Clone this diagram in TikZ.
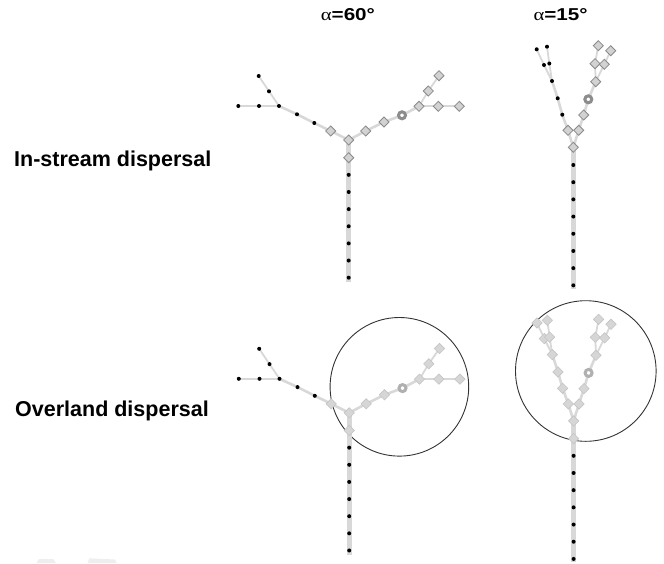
\documentclass[tikz,border=0pt]{standalone}
\usepackage{fontspec}
\usepackage{graphicx}
\setmainfont{Liberation Sans}
\newfontfamily\greekf{Liberation Serif}
\usetikzlibrary{shapes.geometric,backgrounds}

\definecolor{linegray}{HTML}{D8D8D8}
\definecolor{dtopfill}{HTML}{D2D2D2}
\definecolor{dtopedge}{HTML}{8A8A8A}
\definecolor{dbotfill}{HTML}{D6D6D6}
\definecolor{dbotedge}{HTML}{C4C4C4}
\definecolor{ringtopc}{HTML}{8C8C8C}
\definecolor{ringbotc}{HTML}{B0B0B0}
\definecolor{circc}{HTML}{333333}
\definecolor{faintc}{HTML}{EEEEEE}

\tikzset{
  dmdtop/.style={diamond, draw=dtopedge, fill=dtopfill, line width=0.8pt,
    minimum width=10.4pt, minimum height=10.4pt, inner sep=0pt},
  dmdbot/.style={diamond, draw=dbotedge, fill=dbotfill, line width=0.6pt,
    minimum width=10.6pt, minimum height=10.6pt, inner sep=0pt},
  blackdot/.style={circle, fill=black, minimum size=4pt, inner sep=0pt},
  ringtop/.style={circle, draw=ringtopc, fill=white, line width=3pt,
    minimum size=7pt, inner sep=0pt},
  ringbot/.style={circle, draw=ringbotc, fill=white, line width=3pt,
    minimum size=7pt, inner sep=0pt},
  stemline/.style={draw=linegray, line width=5pt},
  branchline/.style={draw=linegray, line width=2.6pt, line join=round},
  subline/.style={draw=linegray, line width=1.8pt, line join=round},
  rangecircle/.style={draw=circc, line width=0.9pt},
  rowlabel/.style={anchor=base west, inner sep=0pt,
    font=\bfseries\fontsize{21.5}{24}\selectfont},
  collabel/.style={anchor=base west, inner sep=0pt,
    font=\fontsize{17.2}{20}\selectfont},
}

% 60 degree network: #1 prefix, #2 diamond style, #3 ring style
\newcommand\netSixty[3]{%
  \node[#2] (#1J) at (348.7,140) {};
  \node[#2] (#1S0) at (348.7,157.7) {};
  \foreach \k in {1,...,7} {\node[blackdot] (#1S\k) at (348.7,{157.7+17.14*\k}) {};}
  \coordinate (#1End) at (348.7,282);
  \node[#2] (#1L1) at (330.7,131) {};
  \node[blackdot] (#1L2) at (314.3,123) {};
  \node[blackdot] (#1L3) at (297,114.3) {};
  \node[blackdot] (#1LJ) at (279,106) {};
  \node[blackdot] (#1LU1) at (269,91.3) {};
  \node[blackdot] (#1LU2) at (258.7,76) {};
  \node[blackdot] (#1LL1) at (259,106) {};
  \node[blackdot] (#1LL2) at (238.3,106) {};
  \node[#2] (#1R1) at (365.7,131) {};
  \node[#2] (#1R2) at (384,122) {};
  \node[#3] (#1RG) at (402,115.3) {};
  \node[#2] (#1RJ) at (419,106.3) {};
  \node[#2] (#1RU1) at (428.3,91) {};
  \node[#2] (#1RU2) at (439,75.7) {};
  \node[#2] (#1RR1) at (438.3,106.3) {};
  \node[#2] (#1RR2) at (459.3,106.3) {};
  \begin{pgfonlayer}{background}
    \draw[stemline] (#1J.center) -- (#1S0.center) -- (#1S1.center) -- (#1S2.center)
      -- (#1S3.center) -- (#1S4.center) -- (#1S5.center) -- (#1S6.center)
      -- (#1S7.center) -- (#1End);
    \draw[branchline] (#1J.center) -- (#1L1.center) -- (#1L2.center) -- (#1L3.center) -- (#1LJ.center);
    \draw[subline] (#1LJ.center) -- (#1LU1.center) -- (#1LU2.center);
    \draw[subline] (#1LJ.center) -- (#1LL1.center) -- (#1LL2.center);
    \draw[branchline] (#1J.center) -- (#1R1.center) -- (#1R2.center) -- (#1RG.center) -- (#1RJ.center);
    \draw[subline] (#1RJ.center) -- (#1RU1.center) -- (#1RU2.center);
    \draw[subline] (#1RJ.center) -- (#1RR1.center) -- (#1RR2.center);
  \end{pgfonlayer}
}

% 15 degree network: #1 prefix, #2 diamond style, #3 ring style,
% #4 style of left branch nodes, #5 style of first stem node
\newcommand\netFifteen[5]{%
  \node[#2] (#1J) at (573.3,147.3) {};
  \node[#5] (#1S1) at (573.3,165) {};
  \foreach \k in {2,...,8} {\node[blackdot] (#1S\k) at (573.3,{165+17.19*(\k-1)}) {};}
  \coordinate (#1End) at (573.3,288.5);
  \node[#2] (#1L1) at (568,130.3) {};
  \node[#4] (#1L2) at (562.3,114.7) {};
  \node[#4] (#1L3) at (557.7,98.3) {};
  \node[#4] (#1LJ) at (552,81) {};
  \node[#4] (#1LA1) at (544,65) {};
  \node[#4] (#1LA2) at (536.7,49.3) {};
  \node[#4] (#1LB1) at (549.3,63.5) {};
  \node[#4] (#1LB2) at (547,46.7) {};
  \node[#2] (#1R1) at (578.7,130.3) {};
  \node[#2] (#1R2) at (583.7,115) {};
  \node[#3] (#1RG) at (588.3,99.3) {};
  \node[#2] (#1RJ) at (595.7,81.7) {};
  \node[#2] (#1RA1) at (595,63.7) {};
  \node[#2] (#1RA2) at (598.3,45.7) {};
  \node[#2] (#1RB1) at (604.3,64.3) {};
  \node[#2] (#1RB2) at (610.7,50.7) {};
  \begin{pgfonlayer}{background}
    \draw[stemline] (#1J.center) -- (#1S1.center) -- (#1S2.center) -- (#1S3.center)
      -- (#1S4.center) -- (#1S5.center) -- (#1S6.center) -- (#1S7.center)
      -- (#1S8.center) -- (#1End);
    \draw[branchline] (#1J.center) -- (#1L1.center) -- (#1L2.center) -- (#1L3.center) -- (#1LJ.center);
    \draw[subline] (#1LJ.center) -- (#1LA1.center) -- (#1LA2.center);
    \draw[subline] (#1LJ.center) -- (#1LB1.center) -- (#1LB2.center);
    \draw[branchline] (#1J.center) -- (#1R1.center) -- (#1R2.center) -- (#1RG.center) -- (#1RJ.center);
    \draw[subline] (#1RJ.center) -- (#1RA1.center) -- (#1RA2.center);
    \draw[subline] (#1RJ.center) -- (#1RB1.center) -- (#1RB2.center);
  \end{pgfonlayer}
}

\begin{document}
\begin{tikzpicture}[x=1pt, y=-1pt]
  \useasboundingbox (0,0) rectangle (664,563);

  % column and row labels
  \node[collabel] (h60) at (320.7,20.7) {\scalebox{1.2}[1]{{\greekf α}{\bfseries =60°}}};
  \node[collabel] (h15) at (533.3,20.7) {\scalebox{1.2}[1]{{\greekf α}{\bfseries =15°}}};
  \node[rowlabel] (r1) at (14,166.7) {In-stream dispersal};
  \node[rowlabel] (r2) at (15,416.7) {Overland dispersal};

  % in-stream dispersal
  \netSixty{a}{dmdtop}{ringtop}
  \netFifteen{b}{dmdtop}{ringtop}{blackdot}{blackdot}

  % overland dispersal: range circles first (behind the network)
  \begin{pgfonlayer}{background}
    \node[rangecircle, circle, minimum size=138.6pt, inner sep=0pt] (c60) at (399.4,386.8) {};
    \node[rangecircle, circle, minimum size=140.6pt, inner sep=0pt] (c15) at (585.8,371) {};
  \end{pgfonlayer}
  \begin{scope}[shift={(0.5,272.8)}]
    \netSixty{c}{dmdbot}{ringbot}
  \end{scope}
  \begin{scope}[shift={(0.3,273.6)}]
    \netFifteen{d}{dmdbot}{ringbot}{dmdbot}{dmdbot}
  \end{scope}

  % faint marks at the bottom edge
  \fill[faintc] (36.5,563) -- (39,559) -- (53.3,559) -- (56,563) -- cycle;
  \fill[faintc] (87.5,563) -- (89.3,558.3) -- (115,559.5) -- (116.7,563) -- cycle;
\end{tikzpicture}
\end{document}
